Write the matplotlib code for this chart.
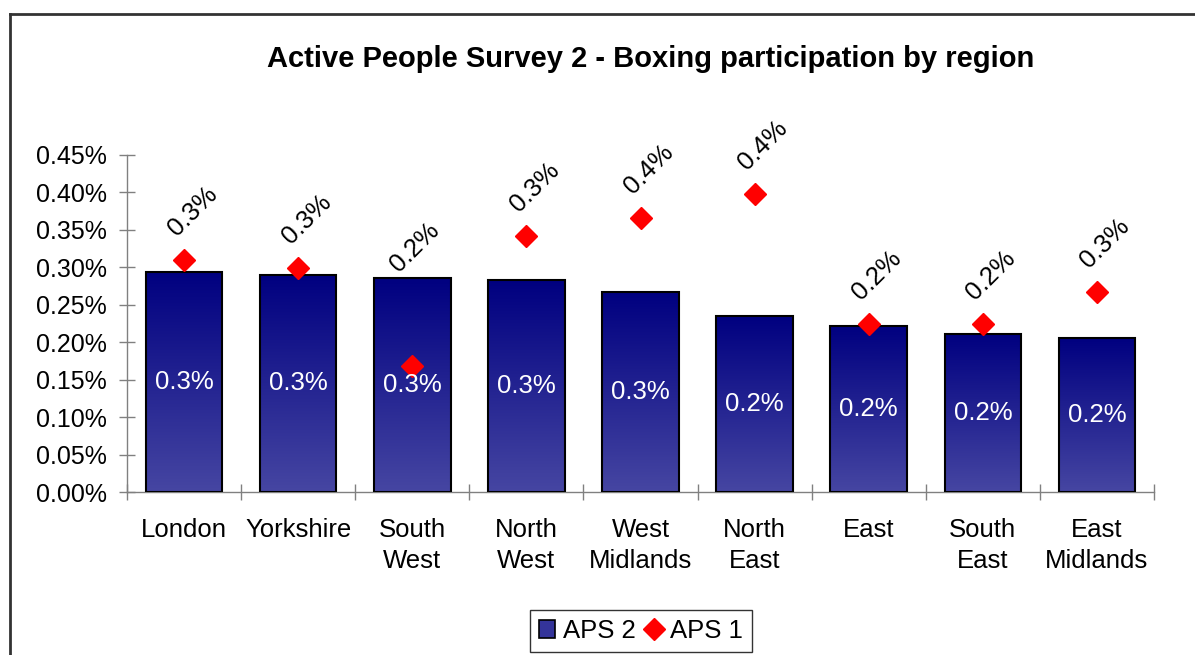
import numpy as np
import matplotlib
matplotlib.use('Agg')
import matplotlib.pyplot as plt
from matplotlib.colors import LinearSegmentedColormap
from matplotlib.lines import Line2D
from matplotlib.patches import Patch
from matplotlib.ticker import FuncFormatter

regions = ["London", "Yorkshire", "South\nWest", "North\nWest", "West\nMidlands",
           "North\nEast", "East", "South\nEast", "East\nMidlands"]
aps2 = [0.294, 0.290, 0.286, 0.283, 0.267, 0.235, 0.222, 0.211, 0.206]
aps1 = [0.310, 0.299, 0.168, 0.342, 0.366, 0.398, 0.224, 0.224, 0.267]
yticks = [0.00, 0.05, 0.10, 0.15, 0.20, 0.25, 0.30, 0.35, 0.40, 0.45]
title = "Active People Survey 2 - Boxing participation by region"

plt.rcParams['font.family'] = ['Liberation Sans', 'DejaVu Sans']
W, H = 1195, 655
fig = plt.figure(figsize=(W / 100, H / 100), dpi=100)
ax = fig.add_axes([127 / W, 1 - 492 / H, (1154 - 127) / W, (492 - 155) / H])

FS = 18.5
x = np.arange(len(regions))
bw = 0.67
bars = ax.bar(x, aps2, width=bw, facecolor='none', edgecolor='black',
              linewidth=1.5, zorder=3)
cmap = LinearSegmentedColormap.from_list('g', ['#4646a2', '#000080'])
grad = np.linspace(0, 1, 256).reshape(-1, 1)
for b in bars:
    ax.imshow(grad, extent=[b.get_x(), b.get_x() + b.get_width(), 0, b.get_height()],
              origin='lower', cmap=cmap, aspect='auto', zorder=2)

ax.plot(x, aps1, linestyle='none', marker='D', color='red', markersize=11,
        zorder=4, clip_on=False)

for xi, v in zip(x, aps2):
    ax.text(xi, v / 2, f"{v:.1f}%", color='white', ha='center', va='center',
            fontsize=FS, zorder=5)
for xi, v, b in zip(x, aps1, aps2):
    if v < b - 0.05:
        anchor, off = b, (2, 22)
    else:
        anchor, off = v, (6, 35)
    ax.annotate(f"{v:.1f}%", (xi, anchor), xytext=off, textcoords='offset points',
                rotation=45, ha='center', va='center', fontsize=FS,
                annotation_clip=False, zorder=6)

ax.set_xlim(-0.5, len(regions) - 0.5)
ax.set_ylim(0, 0.45)
ax.set_yticks(yticks)
ax.yaxis.set_major_formatter(FuncFormatter(lambda v, p: f"{v:.2f}%"))
ax.set_xticks(x)
ax.set_xticklabels(regions, fontsize=FS, linespacing=1.36)
ax.set_xticks(np.arange(-0.5, len(regions), 1), minor=True)
ax.tick_params(axis='x', which='major', length=0, pad=19)
ax.tick_params(axis='x', which='minor', direction='inout', length=12,
               color='#808080', width=1)
ax.tick_params(axis='y', direction='inout', length=11, color='#808080',
               width=1, labelsize=18, pad=9)
for s in ['top', 'right']:
    ax.spines[s].set_visible(False)
for s in ['left', 'bottom']:
    ax.spines[s].set_color('#808080')
    ax.spines[s].set_linewidth(1)

fig.text(651 / W, 1 - 59 / H, title, ha='center', va='center',
         fontsize=21, fontweight='bold')

handles = [Patch(facecolor='#34349a', edgecolor='black', linewidth=1.2),
           Line2D([], [], linestyle='none', marker='D', color='red', markersize=11)]
leg = fig.legend(handles, ['APS 2', 'APS 1'], loc='center',
                 bbox_to_anchor=(641 / W, 1 - 631 / H), ncol=2, frameon=True,
                 fancybox=False, edgecolor='black', fontsize=FS,
                 handlelength=0.65, handleheight=0.65, handletextpad=0.3,
                 columnspacing=0.4, borderpad=0.35)
leg.get_frame().set_linewidth(1)

fig.add_artist(Line2D([10 / W, 10 / W], [0, 1 - 14 / H], color='#333333',
                      linewidth=2, transform=fig.transFigure))
fig.add_artist(Line2D([10 / W, 1], [1 - 14 / H, 1 - 14 / H], color='#333333',
                      linewidth=2, transform=fig.transFigure))

fig.savefig('out.png', dpi=100)
